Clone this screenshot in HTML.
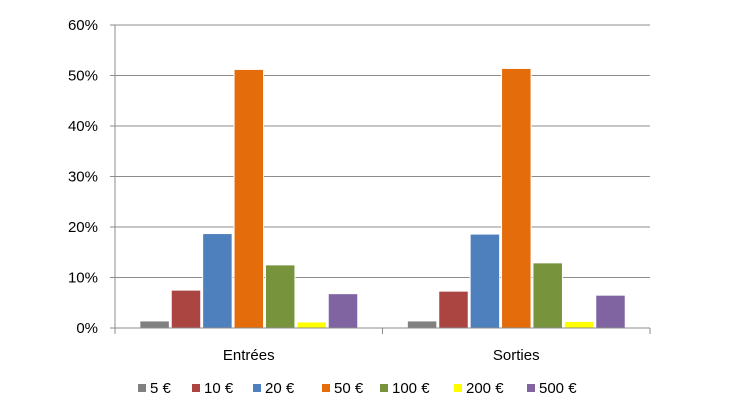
<!DOCTYPE html>
<html><head><meta charset="utf-8"><style>
body{margin:0;background:#fff;}
svg{display:block;font-family:"Liberation Sans",Arial,sans-serif;}
</style></head><body>
<svg id="chart" width="730" height="410" viewBox="0 0 730 410">
<g id="grid"></g><g id="bars"></g><g id="axes"></g><g id="legend"></g>
</svg>
<script>
const categories=["Entrées","Sorties"];
const seriesNames=["5 €","10 €","20 €","50 €","100 €","200 €","500 €"];
const colors=["#808080","#ab4542","#4e80bd","#e46c0a","#77933c","#ffff00","#8064a2"];
const entrees=[1.4,7.5,18.7,51.2,12.5,1.2,6.8];
const sorties=[1.4,7.3,18.6,51.4,12.9,1.3,6.5];
const values=[entrees,sorties];
const yTicks=[0,10,20,30,40,50,60];
const legendX=[138,192,253,322,380,454,527];

const NS="http://www.w3.org/2000/svg";
const X0=115,X1=650,Y0=328,Y1=25;
const y=v=>Y0-(v/60)*(Y0-Y1);
const catW=(X1-X0)/categories.length;
const pitch=31.4, bw=29.5;
function mk(t,a,p){const e=document.createElementNS(NS,t);for(const k in a)e.setAttribute(k,a[k]);p.appendChild(e);return e;}
const grid=document.getElementById('grid'),bars=document.getElementById('bars'),axes=document.getElementById('axes'),legend=document.getElementById('legend');
yTicks.forEach(t=>{
  if(t>0){const l=mk('line',{x1:X0,x2:X1,y1:y(t),y2:y(t),stroke:'#8c8c8c','stroke-width':1},grid);
  
  }
  const tx=mk('text',{x:98,y:y(t)+5,'text-anchor':'end','font-size':15,fill:'#000'},axes);
  tx.textContent=t+'%';
  
  
  mk('line',{x1:X0-5,x2:X0,y1:y(t),y2:y(t),stroke:'#8c8c8c'},axes);
});
categories.forEach((c,ci)=>{
  const cx=X0+catW*(ci+0.5);
  const start=cx-pitch*seriesNames.length/2;
  values[ci].forEach((v,si)=>{
    const r=mk('rect',{x:start+si*pitch+1,y:y(v),width:bw,height:Y0-y(v),fill:colors[si],stroke:'#fff','stroke-width':1},bars);
    
    
  });
  const t=mk('text',{x:cx,y:360,'text-anchor':'middle','font-size':15,fill:'#000'},axes);
  t.textContent=c;
  
  
});
mk('line',{x1:X0,x2:X0,y1:Y1,y2:Y0,stroke:'#8c8c8c'},axes);
mk('line',{x1:X0,x2:X1,y1:Y0,y2:Y0,stroke:'#8c8c8c'},axes);
for(let i=0;i<=categories.length;i++){const xx=X0+catW*i;mk('line',{x1:xx,x2:xx,y1:Y0,y2:Y0+6,stroke:'#8c8c8c'},axes);}
seriesNames.forEach((n,i)=>{
  const g=mk('g',{},legend);
  
  
  mk('rect',{x:legendX[i],y:384,width:8,height:8,fill:colors[i]},g);
  const t=mk('text',{x:legendX[i]+12,y:393,'font-size':15,fill:'#000'},g);
  t.textContent=n;
});
</script>
</body></html>
